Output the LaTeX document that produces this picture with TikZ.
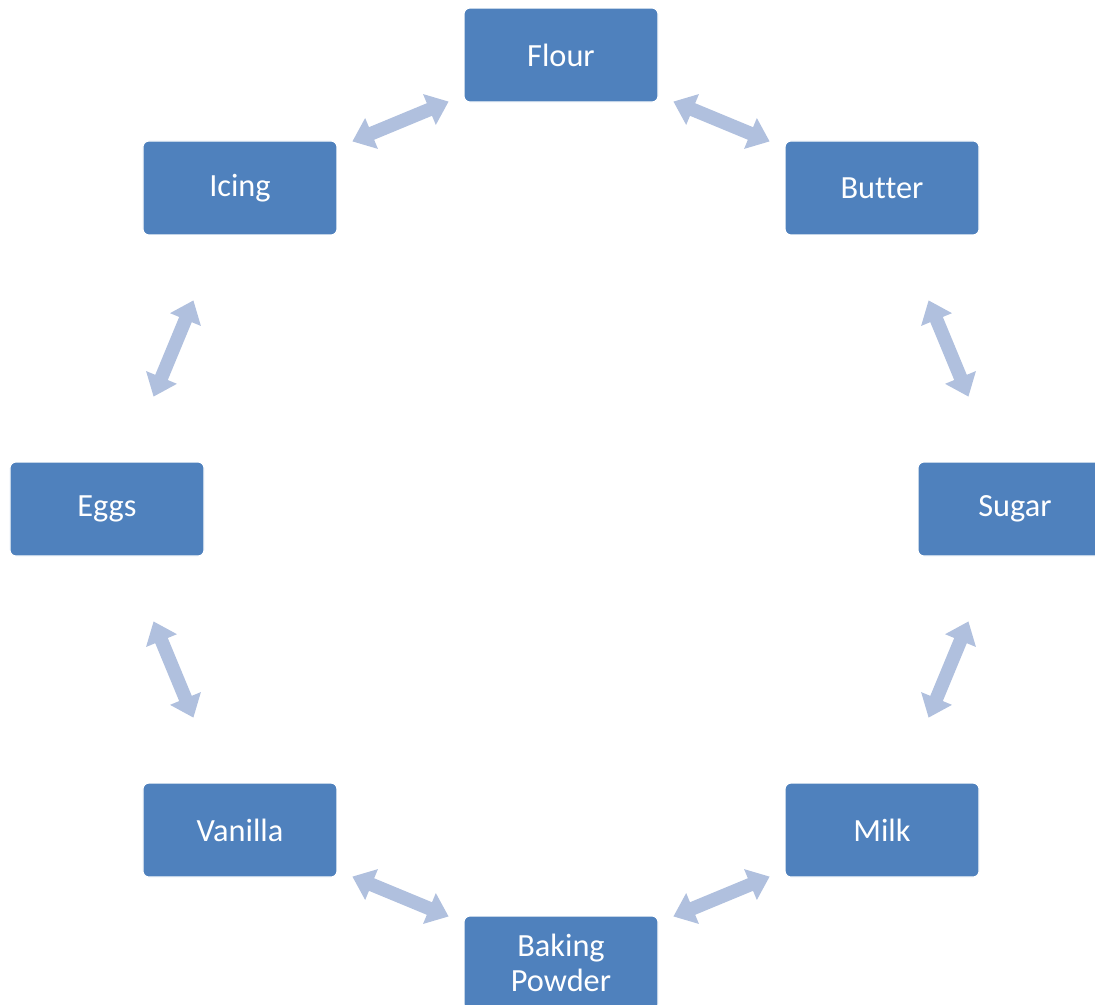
\documentclass[tikz,border=0pt]{standalone}
\usepackage{fontspec}
\setmainfont[Ligatures=NoCommon]{Carlito}
\usetikzlibrary{arrows.meta,calc}

\definecolor{boxblue}{RGB}{79,129,189}
\definecolor{linkblue}{RGB}{176,192,222}

\tikzset{
  ingredient/.style={rectangle, rounded corners=0.15cm, fill=boxblue, draw=white,
    line width=0.8pt, minimum width=4.85cm, minimum height=2.35cm, inner sep=0pt,
    text=white, align=center, font=\fontsize{23}{25}\selectfont},
  link/.style={draw=linkblue, line width=0.34cm,
    {Triangle[length=0.52cm,width=0.8cm]}-{Triangle[length=0.52cm,width=0.8cm]}},
}

\begin{document}
\begin{tikzpicture}
  \useasboundingbox (0,0) rectangle (27.375,-25.1);
  \coordinate (hub) at (14.025,-12.725);

  \node[ingredient] (flour)   at ($(hub)+(90:11.35)$)   {Flour};
  \node[ingredient] (butter)  at ($(hub)+(45:11.35)$)   {Butter};
  \node[ingredient] (sugar)   at ($(hub)+(0:11.35)$)    {Sugar};
  \node[ingredient] (milk)    at ($(hub)+(-45:11.35)$)  {Milk};
  \node[ingredient] (baking)  at ($(hub)+(-90:11.35)$)  {Baking\\Powder};
  \node[ingredient] (vanilla) at ($(hub)+(-135:11.35)$) {Vanilla};
  \node[ingredient] (eggs)    at ($(hub)+(180:11.35)$)  {Eggs};
  \node[ingredient] (icing)   at ($(hub)+(135:11.35)$)  {Icing};

  % two-way links round the ring
  \foreach \a/\b in {flour/butter, butter/sugar, sugar/milk, milk/baking,
                     baking/vanilla, vanilla/eggs, eggs/icing, icing/flour}
    \draw[link] ($(\a)!0.35!(\b)$) -- ($(\a)!0.65!(\b)$);
\end{tikzpicture}
\end{document}
